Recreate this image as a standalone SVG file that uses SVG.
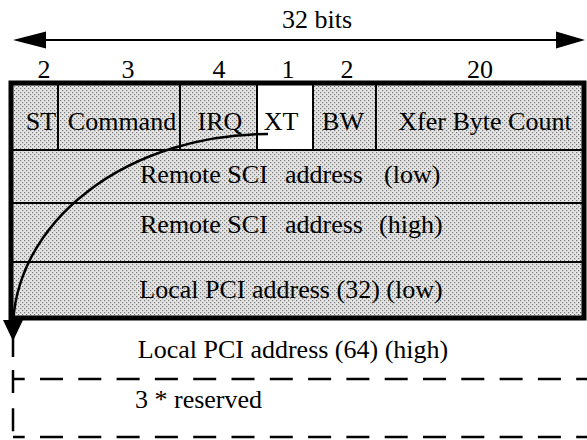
<svg xmlns="http://www.w3.org/2000/svg" width="587" height="440" viewBox="0 0 587 440">
<style>
text{font-family:'Liberation Serif','DejaVu Serif',serif;font-size:26px;fill:#000}
.c{text-anchor:middle}
.thin{stroke:#000;stroke-width:2;fill:none}
.dash{stroke:#000;stroke-width:2.5;fill:none;stroke-dasharray:23 15.3}
</style>
<defs>
<pattern id="dots" width="4" height="4" patternUnits="userSpaceOnUse">
<rect width="4" height="4" fill="#e4e4e4"/>
<rect x="0" y="0" width="1.2" height="1.2" fill="#7a7a7a"/>
<rect x="2" y="2" width="1.2" height="1.2" fill="#7a7a7a"/>
</pattern>
</defs>
<rect width="587" height="440" fill="#fff"/>
<g font-family="Liberation Serif, DejaVu Serif, serif" font-size="26">
<g id="width-label">
<text class="c" x="317" y="28">32 bits</text>
</g>

<g id="bit-counts">
<text class="c" x="44" y="78">2</text>
<text class="c" x="128" y="78">3</text>
<text class="c" x="219" y="78">4</text>
<text class="c" x="288" y="78">1</text>
<text class="c" x="347" y="78">2</text>
<text class="c" x="480" y="78">20</text>
</g>

<g id="shaded-block">
<rect x="11" y="83" width="573" height="235" fill="url(#dots)"/>
<rect x="257" y="84" width="56" height="66" fill="#fff"/>
</g>

<g id="row1">
<line class="thin" x1="58" y1="83" x2="58" y2="150"/>
<line class="thin" x1="180" y1="83" x2="180" y2="150"/>
<line class="thin" x1="257" y1="83" x2="257" y2="150"/>
<line class="thin" x1="313" y1="83" x2="313" y2="150"/>
<line class="thin" x1="376" y1="83" x2="376" y2="150"/>
<line class="thin" x1="11" y1="150" x2="584" y2="150"/>
<g id="field-st"><text class="c" x="41" y="130">ST</text></g>
<g id="field-command"><text class="c" x="122" y="130">Command</text></g>
<g id="field-irq"><text class="c" x="220" y="130">IRQ</text></g>
<g id="field-xt"><text class="c" x="281" y="130">XT</text></g>
<g id="field-bw"><text class="c" x="343" y="130">BW</text></g>
<g id="field-xfer"><text class="c" x="485" y="130">Xfer Byte Count</text></g>
</g>

<g id="row2">
<line class="thin" x1="11" y1="203" x2="584" y2="203"/>
<text y="183"><tspan x="140">Remote SCI</tspan><tspan x="285">address</tspan><tspan x="384">(low)</tspan></text>
</g>

<g id="row3">
<line class="thin" x1="11" y1="262" x2="584" y2="262"/>
<text y="233"><tspan x="140">Remote SCI</tspan><tspan x="285">address</tspan><tspan x="379">(high)</tspan></text>
</g>

<g id="row4">
<text class="c" x="291" y="298">Local PCI address (32) (low)</text>
</g>

<g id="outer-frame">
<rect x="11" y="83" width="573" height="235" fill="none" stroke="#000" stroke-width="5"/>
</g>

<g id="row5">
<text class="c" x="293" y="358">Local PCI address (64) (high)</text>
</g>

<g id="reserved">
<path class="dash" d="M13 379 H587" stroke-dashoffset="11.3"/>
<path class="dash" d="M13 437 H587" stroke-dashoffset="11.3"/>
<path class="dash" d="M13 370 V437" stroke-dasharray="14 12"/>
<text x="135" y="408">3 * reserved</text>
</g>
</g>
<g id="connectors">
<line x1="40" y1="40" x2="560" y2="40" stroke="#000" stroke-width="2"/>
<polygon points="13,40 46,31.5 46,48.5" fill="#000"/>
<polygon points="585,40 556,31.5 556,48.5" fill="#000"/>
<path d="M268 134 A255 196 0 0 0 13 330 V357" fill="none" stroke="#000" stroke-width="2.5"/>
<polygon points="3,320 23,320 13,341" fill="#000"/>
</g>
</svg>
